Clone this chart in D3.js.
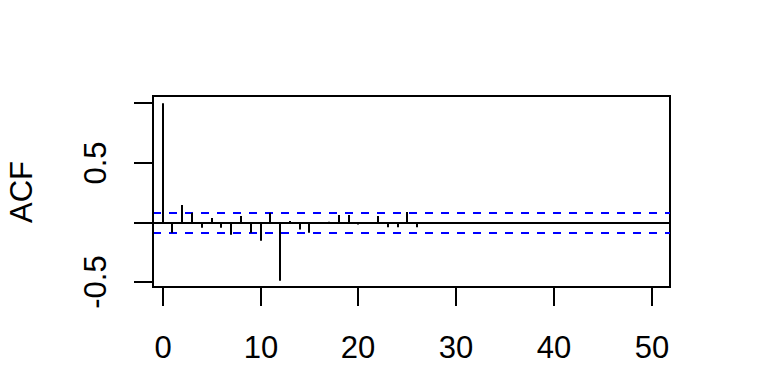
<!DOCTYPE html>
<html><head><meta charset="utf-8">
<script src="https://cdn.jsdelivr.net/npm/d3@7"></script>
<style>body{margin:0;background:#fff}svg{display:block}</style>
</head><body><svg id="c" width="768" height="384"></svg>
<script>
const lags = [0,1,2,3,4,5,6,7,8,9,10,11,12,13,14,15,16,17,18,19,20,21,22,23,24,25,26];
const acfValues = [1.0,-0.084,0.148,0.084,-0.042,0.039,-0.042,-0.100,0.056,-0.084,-0.151,0.084,-0.486,0.015,-0.056,-0.084,0.005,0.008,0.064,0.064,-0.015,-0.010,0.056,-0.039,-0.039,0.089,-0.039];
const ciBound = 0.085;
const xTicks = [0,10,20,30,40,50];
const yTicks = [-0.5,0,0.5,1];
const yTickLabels = ["-0.5","","0.5",""];
const yLabel = "ACF";

const svg = d3.select("#c");
const font = "'Liberation Sans', Arial, sans-serif";
const fs = 31;
const L = 153, R = 670, T = 96, B = 287;
const x = d3.scaleLinear().domain([-1.02, 51.9]).range([152.7, 670.5]);
const y = d3.scaleLinear().domain([-0.5385, 1.061]).range([287, 96]);
const rx = v => Math.round(x(v));
const ry = v => Math.round(y(v));

// box
svg.append("rect").attr("x",L).attr("y",T).attr("width",R-L).attr("height",B-T)
  .attr("fill","none").attr("stroke","#000").attr("stroke-width",2);

// zero line
svg.append("line").attr("x1",L).attr("x2",R).attr("y1",ry(0)).attr("y2",ry(0))
  .attr("stroke","#000").attr("stroke-width",2);

// CI lines
[ciBound,-ciBound].forEach(v=>{
  svg.append("line").attr("x1",L).attr("x2",R).attr("y1",ry(v)).attr("y2",ry(v))
    .attr("stroke","#0000ff").attr("stroke-width",2).attr("stroke-dasharray","8,8");
});

// spikes
svg.append("g").selectAll("line").data(lags).join("line")
  .attr("x1",d=>rx(d)).attr("x2",d=>rx(d))
  .attr("y1",ry(0)).attr("y2",(d,i)=>y(acfValues[i]))
  .attr("stroke","#000").attr("stroke-width",2);

// x axis
const gx = svg.append("g").attr("transform",`translate(0,${B})`)
  .call(d3.axisBottom(x).tickValues(xTicks).tickSize(19).tickPadding(30).tickFormat(d3.format("d")));
gx.select(".domain").remove();
gx.selectAll(".tick").attr("transform",d=>`translate(${rx(d)},0)`);
gx.append("line").attr("x1",rx(xTicks[0])).attr("x2",rx(xTicks[xTicks.length-1])).attr("stroke","#000").attr("stroke-width",2);
gx.selectAll(".tick line").attr("stroke","#000").attr("stroke-width",2);
gx.selectAll("text").attr("font-family",font).attr("font-size",fs).attr("fill","#000");

// y axis
const gy = svg.append("g").attr("transform",`translate(${L},0)`)
  .call(d3.axisLeft(y).tickValues(yTicks).tickSize(19).tickFormat((d,i)=>yTickLabels[i]));
gy.select(".domain").remove();
gy.selectAll(".tick").attr("transform",d=>`translate(0,${ry(d)})`);
gy.append("line").attr("y1",ry(yTicks[0])).attr("y2",ry(yTicks[yTicks.length-1])).attr("stroke","#000").attr("stroke-width",2);
gy.selectAll(".tick line").attr("stroke","#000").attr("stroke-width",2);
gy.selectAll("text").attr("font-family",font).attr("font-size",fs).attr("fill","#000")
  .attr("x",null).attr("dy",null).attr("text-anchor","middle")
  .attr("transform","translate(-47,0) rotate(-90)");

// y label
svg.append("text").attr("transform",`translate(32,192) rotate(-90)`)
  .attr("text-anchor","middle").attr("font-family",font).attr("font-size",fs)
  .attr("fill","#000").text(yLabel);
</script></body></html>
